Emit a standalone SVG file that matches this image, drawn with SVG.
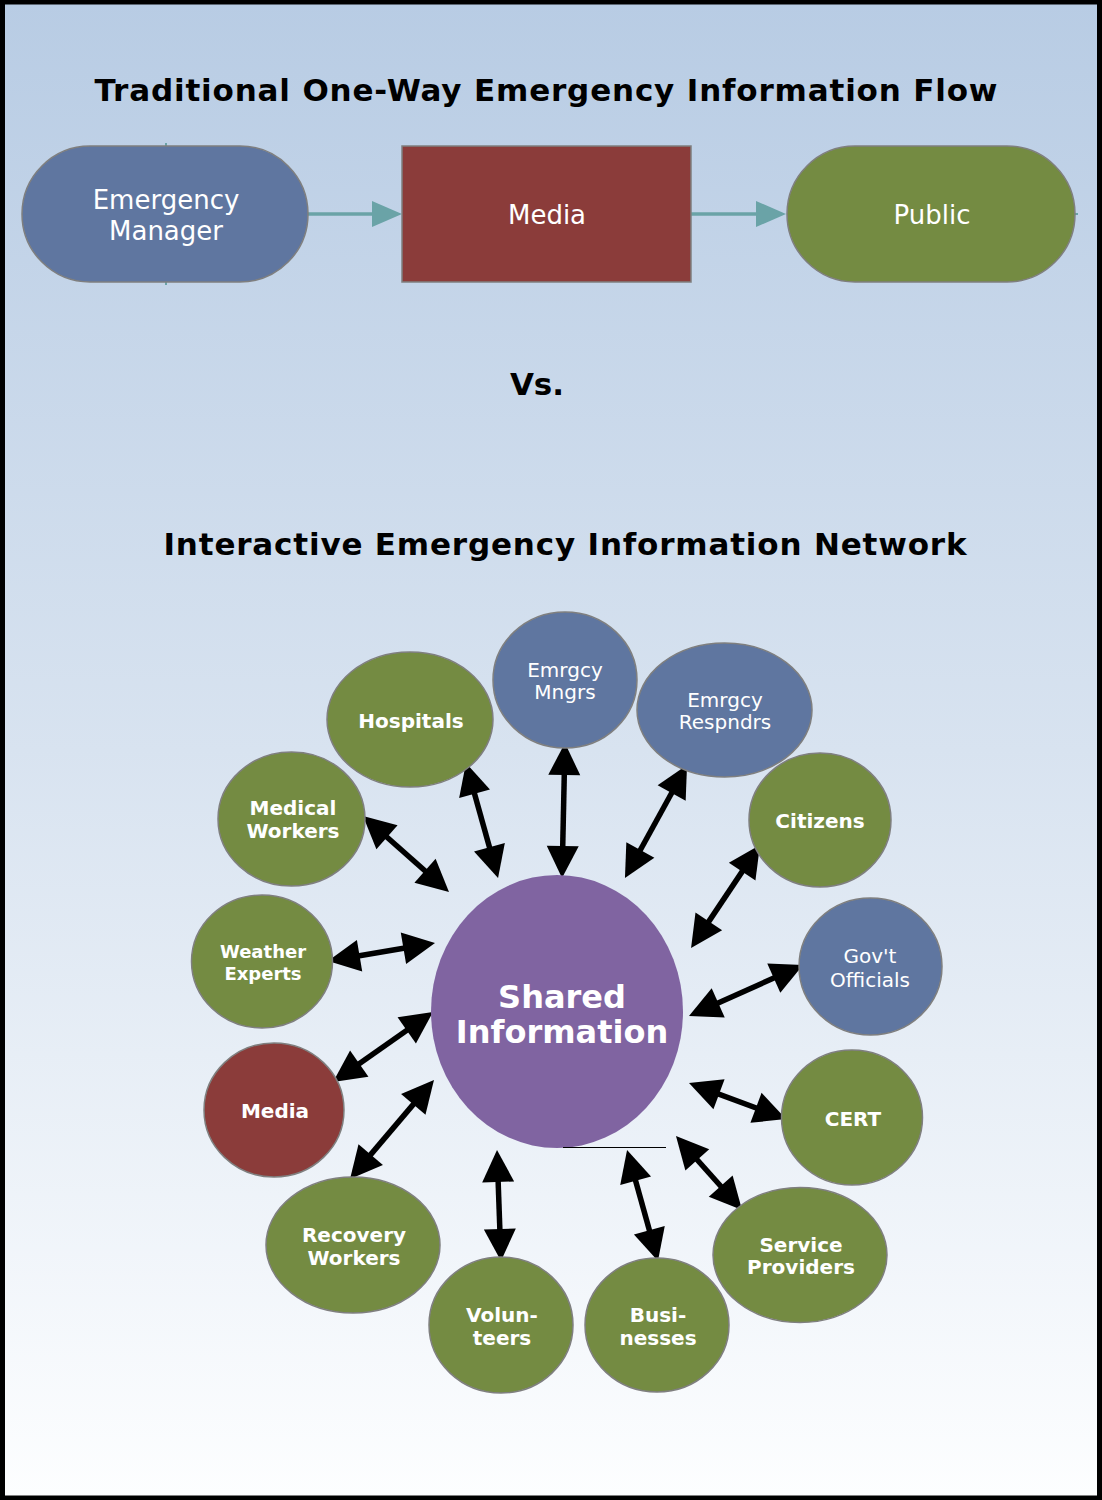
<svg xmlns="http://www.w3.org/2000/svg" width="1102" height="1500" viewBox="0 0 1102 1500">
  <defs>
    <linearGradient id="bg" x1="0" y1="0" x2="0" y2="1">
      <stop offset="0" stop-color="#b8cce4"/>
      <stop offset="0.5" stop-color="#d8e3f0"/>
      <stop offset="1" stop-color="#fdfeff"/>
    </linearGradient>
    <marker id="head" markerUnits="userSpaceOnUse" markerWidth="32" markerHeight="32" refX="24" refY="16" orient="auto-start-reverse" overflow="visible">
      <path d="M0,0 L32,16 L0,32 Z" fill="#000"/>
    </marker>
    <marker id="tealHead" markerUnits="userSpaceOnUse" markerWidth="30" markerHeight="26" refX="22" refY="13" orient="auto" overflow="visible">
      <path d="M0,0 L30,13 L0,26 Z" fill="#6aa3a7"/>
    </marker>
    <style>
      .blue { fill: #5f76a0; stroke: #7f7f7f; stroke-width: 1.5; }
      .green { fill: #748b42; stroke: #7f7f7f; stroke-width: 1.5; }
      .red { fill: #8b3c3a; stroke: #7f7f7f; stroke-width: 1.5; }
      .hub { fill: #8064a1; }
      .title { font-family: "DejaVu Sans", Verdana, sans-serif; font-weight: bold; font-size: 31px; fill: #000; text-anchor: middle; }
      .lbl { font-family: "DejaVu Sans", Verdana, sans-serif; font-size: 20px; fill: #fff; text-anchor: middle; }
      .big { font-family: "DejaVu Sans", Verdana, sans-serif; font-size: 26px; fill: #fff; text-anchor: middle; }
      .b { font-weight: bold; }
      .arrow { stroke: #000; stroke-width: 5.5; fill: none; marker-start: url(#head); marker-end: url(#head); }
      .flow { stroke: #6aa3a7; stroke-width: 3.5; fill: none; marker-end: url(#tealHead); }
      .stub { stroke: #6aa3a7; stroke-width: 2; }
    </style>
  </defs>

  <!-- page background and frame -->
  <rect x="2.5" y="2" width="1097" height="1496" fill="url(#bg)" stroke="#000" stroke-width="5"/>

  <!-- headings -->
  <text class="title" x="546" y="101" textLength="903" lengthAdjust="spacing">Traditional One-Way Emergency Information Flow</text>
  <text class="title" x="537" y="395">Vs.</text>
  <text class="title" x="565" y="555" textLength="803" lengthAdjust="spacing">Interactive Emergency Information Network</text>

  <!-- connectors -->
  <g id="connectors">
    <line class="flow" x1="308" y1="214" x2="394" y2="214"/>
    <line class="flow" x1="691" y1="214" x2="778" y2="214"/>
    <line class="stub" x1="166" y1="143" x2="166" y2="148"/>
    <line class="stub" x1="166" y1="280" x2="166" y2="285"/>
    <line class="stub" x1="1074" y1="214" x2="1078" y2="214"/>

    <line class="arrow" x1="468.1" y1="770.7" x2="495.9" y2="870.3"/>
    <line class="arrow" x1="564.8" y1="751" x2="562.2" y2="870"/>
    <line class="arrow" x1="369" y1="821.3" x2="443" y2="886.7"/>
    <line class="arrow" x1="683.2" y1="772" x2="628.8" y2="871"/>
    <line class="arrow" x1="755.5" y1="851.6" x2="695.5" y2="941.4"/>
    <line class="arrow" x1="795.7" y1="968.3" x2="696.3" y2="1012.7"/>
    <line class="arrow" x1="335.9" y1="959.7" x2="427.1" y2="944.3"/>
    <line class="arrow" x1="339.6" y1="1077.4" x2="426.4" y2="1016.6"/>
    <line class="arrow" x1="355.2" y1="1172.9" x2="428.8" y2="1086.1"/>
    <line class="arrow" x1="778.5" y1="1116.2" x2="696.5" y2="1085.8"/>
    <line class="arrow" x1="736.7" y1="1204" x2="681.3" y2="1142"/>
    <line class="arrow" x1="500.7" y1="1253" x2="497.3" y2="1158"/>
    <line class="arrow" x1="655.8" y1="1253.3" x2="629.2" y2="1157.7"/>
  </g>

  <!-- one-way flow -->
  <g id="emergency-manager">
    <rect class="blue" x="22" y="146" width="286" height="136" rx="68" ry="68"/>
    <text class="big" x="166" y="209">Emergency</text>
    <text class="big" x="166" y="240">Manager</text>
  </g>
  <g id="media-box">
    <rect class="red" x="402" y="146" width="289" height="136"/>
    <text class="big" x="547" y="224">Media</text>
  </g>
  <g id="public">
    <rect class="green" x="787" y="146" width="288" height="136" rx="68" ry="68"/>
    <text class="big" x="932" y="224">Public</text>
  </g>

  <!-- network -->
  <g id="shared-information">
    <ellipse class="hub" cx="557" cy="1011.5" rx="126" ry="136.5"/>
    <line x1="563" y1="1147.5" x2="666" y2="1147.5" stroke="#000" stroke-width="1"/>
    <text class="lbl b" x="562" y="1008" style="font-size:32px">Shared</text>
    <text class="lbl b" x="562" y="1043" style="font-size:32px">Information</text>
  </g>
  <g id="hospitals">
    <ellipse class="green" cx="410" cy="719.5" rx="83" ry="67.5"/>
    <text class="lbl b" x="411" y="728">Hospitals</text>
  </g>
  <g id="emrgcy-mngrs">
    <ellipse class="blue" cx="565" cy="680" rx="72" ry="68"/>
    <text class="lbl" x="565" y="677">Emrgcy</text>
    <text class="lbl" x="565" y="699">Mngrs</text>
  </g>
  <g id="emrgcy-respndrs">
    <ellipse class="blue" cx="724.5" cy="710" rx="87.5" ry="67"/>
    <text class="lbl" x="725" y="707">Emrgcy</text>
    <text class="lbl" x="725" y="729">Respndrs</text>
  </g>
  <g id="medical-workers">
    <ellipse class="green" cx="291.5" cy="819" rx="73.5" ry="67"/>
    <text class="lbl b" x="293" y="815">Medical</text>
    <text class="lbl b" x="293" y="838">Workers</text>
  </g>
  <g id="citizens">
    <ellipse class="green" cx="820" cy="820" rx="71" ry="67"/>
    <text class="lbl b" x="820" y="828">Citizens</text>
  </g>
  <g id="weather-experts">
    <ellipse class="green" cx="262" cy="961.5" rx="70.5" ry="66.5"/>
    <text class="lbl b" x="263" y="958" style="font-size:18px">Weather</text>
    <text class="lbl b" x="263" y="980" style="font-size:18px">Experts</text>
  </g>
  <g id="govt-officials">
    <ellipse class="blue" cx="870.5" cy="966.5" rx="71.5" ry="68.5"/>
    <text class="lbl" x="870" y="963">Gov't</text>
    <text class="lbl" x="870" y="987">Officials</text>
  </g>
  <g id="media">
    <ellipse class="red" cx="274" cy="1110" rx="70" ry="67"/>
    <text class="lbl b" x="275" y="1118">Media</text>
  </g>
  <g id="cert">
    <ellipse class="green" cx="852" cy="1117.5" rx="70.5" ry="67.5"/>
    <text class="lbl b" x="853" y="1126">CERT</text>
  </g>
  <g id="recovery-workers">
    <ellipse class="green" cx="353" cy="1245" rx="87" ry="68"/>
    <text class="lbl b" x="354" y="1242">Recovery</text>
    <text class="lbl b" x="354" y="1265">Workers</text>
  </g>
  <g id="volunteers">
    <ellipse class="green" cx="501" cy="1325" rx="72" ry="68"/>
    <text class="lbl b" x="502" y="1322">Volun-</text>
    <text class="lbl b" x="502" y="1345">teers</text>
  </g>
  <g id="businesses">
    <ellipse class="green" cx="657" cy="1325" rx="72" ry="67"/>
    <text class="lbl b" x="658" y="1322">Busi-</text>
    <text class="lbl b" x="658" y="1345">nesses</text>
  </g>
  <g id="service-providers">
    <ellipse class="green" cx="800" cy="1255" rx="87" ry="67.5"/>
    <text class="lbl b" x="801" y="1252">Service</text>
    <text class="lbl b" x="801" y="1274">Providers</text>
  </g>
</svg>
